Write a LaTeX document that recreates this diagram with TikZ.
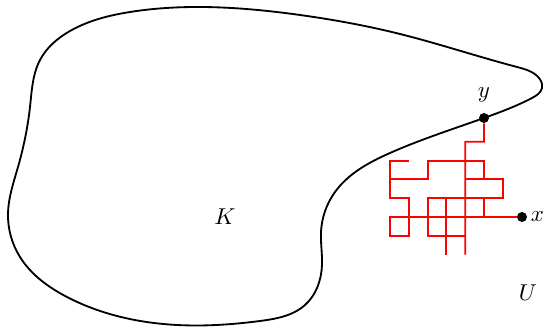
\documentclass[tikz,border=0pt]{standalone}
\usepackage{amsmath}
\usepackage{tikz}
\usetikzlibrary{calc,positioning,hobby}

\begin{document}
\begin{tikzpicture}[
  x=0.0153cm, y=0.0153cm,
  dot/.style={circle, fill=black, inner sep=0pt, minimum size=0.153cm},
  walk/.style={red, thick},
  rim/.style={black, thick}
]
\useasboundingbox (0,0) rectangle (543,327);
% boundary of K
\draw[rim, use Hobby shortcut, closed=true] (542,239) .. (539,249) .. (517,260)
  .. (400,293) .. (300,312) .. (200,320) .. (130,315) .. (70,296) .. (40,267)
  .. (30,220) .. (18,160) .. (8,114) .. (20,70) .. (67,30) .. (177,2)
  .. (260,6) .. (305,22) .. (322,62) .. (321,95) .. (335,135) .. (390,174)
  .. (484,209) .. (532,229);
\node[dot] (y) at (484,209) {};
\node[dot] (x) at (522,110) {};
\node[above=1pt of y] (ylab) {$y$};
\node[right=-2pt of x] (xlab) {$x$};
\node (K) at (225,110) {$K$};
\node (U) at (528,34) {$U$};
% random walk from x to y
\begin{scope}[shift={(390,110)}, x=0.2876cm, y=0.2876cm]
\draw[walk] (y) -- (5,4) -- (4,4) -- (4,-2);
\draw[walk] (1,3) -- (0,3) -- (0,1) -- (1,1) -- (1,-1) -- (0,-1) -- (0,0) -- (x);
\draw[walk] (0,2) -- (2,2) -- (2,3) -- (5,3) -- (5,2);
\draw[walk] (4,2) -- (6,2) -- (6,1) -- (2,1) -- (2,-1) -- (4,-1);
\draw[walk] (5,1) -- (5,0);
\draw[walk] (3,1) -- (3,-2);
\end{scope}
\end{tikzpicture}
\end{document}
